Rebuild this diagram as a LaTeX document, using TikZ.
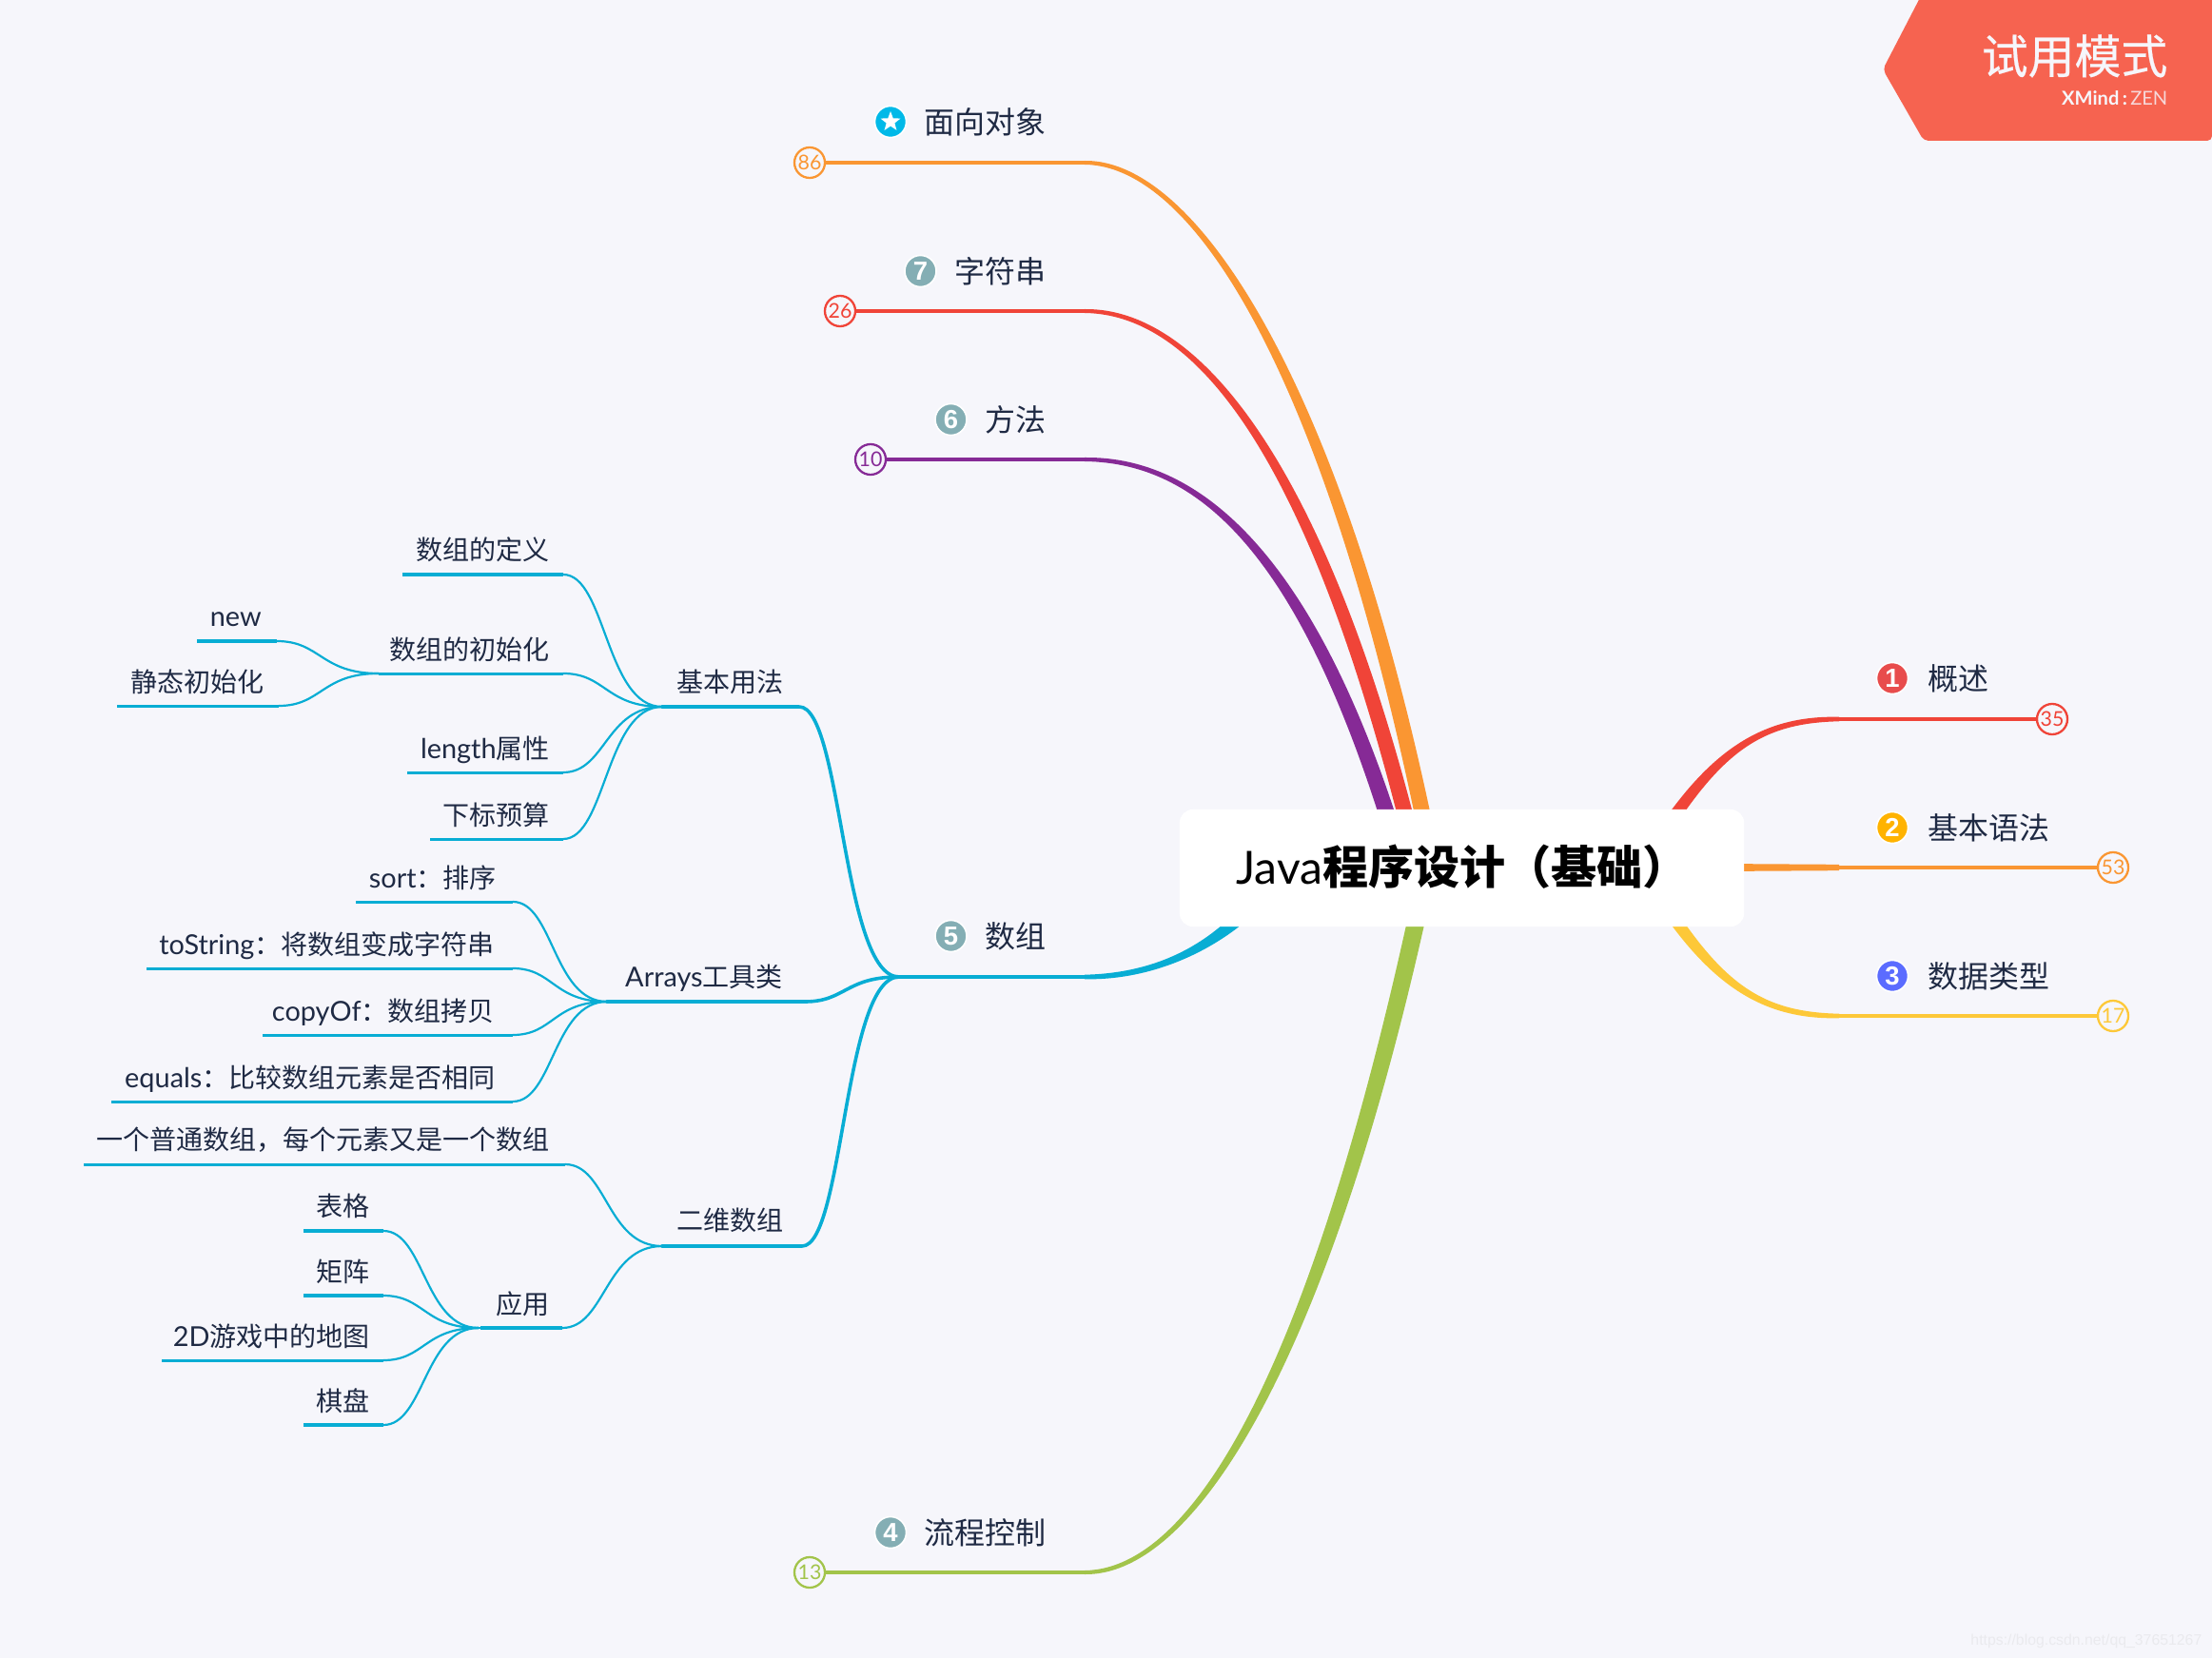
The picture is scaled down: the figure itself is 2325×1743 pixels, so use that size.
\documentclass[tikz,border=0pt]{standalone}
\usepackage{fontspec}
\usetikzlibrary{calc,shapes.geometric}
\setmainfont{Noto Sans CJK SC}
\newfontfamily\latn[Scale=1.03]{Lato}
\newfontfamily\arial{Liberation Sans}
\definecolor{bg}{HTML}{F6F6FB}
\definecolor{ink}{HTML}{1F2A44}
\definecolor{cOrange}{HTML}{FA9632}
\definecolor{cRed}{HTML}{F04438}
\definecolor{cPurple}{HTML}{862A96}
\definecolor{cBlue}{HTML}{08ADD4}
\definecolor{cGreen}{HTML}{A2C44A}
\definecolor{cYellow}{HTML}{FDC838}
\definecolor{cBanner}{HTML}{F66350}
\definecolor{iTeal}{HTML}{84AEB4}
\definecolor{iRed}{HTML}{E84C4C}
\definecolor{iAmber}{HTML}{FFB300}
\definecolor{iIndigo}{HTML}{5B6CFF}
\definecolor{iSky}{HTML}{00B9E8}
\newcommand\lt[1]{{\latn #1}}
\tikzset{
  x=0.01cm,y=-0.01cm,
  lab/.style={inner sep=0pt,anchor=east,text=ink,text height=0.88em,text depth=0.12em,xshift=0.4pt,yshift=0.8pt,font=\fontsize{7.97}{9}\selectfont},
  toplab/.style={inner sep=0pt,anchor=east,text=ink,text height=0.88em,text depth=0.12em,yshift=0.3pt,xshift=0.3pt,font=\fontsize{9.1}{11}\selectfont},
  branch/.style={draw=cBlue,line cap=round},
  icon/.style={circle,draw=white,line width=0.45pt,minimum size=0.33cm,inner sep=0pt,text=white,font=\arial\bfseries\fontsize{7.8}{9}\selectfont},
  badge/.style={circle,fill=bg,line width=0.65pt,minimum size=0.32cm,inner sep=0pt,font=\latn\fontsize{5.9}{7}\selectfont},
}
\newcommand\taper[7]{\fill[#1] ([yshift={(#6)*0.2845pt}]#2) .. controls ([yshift={1.8*(#6)*0.2845pt}]#3) and ([xshift={(#7)*0.2845pt}]#4) .. ([xshift={(#7)*0.2845pt}]#5) -- ([xshift={(-1)*(#7)*0.2845pt}]#5) .. controls ([xshift={(-1)*(#7)*0.2845pt}]#4) and ([yshift={(-1.8)*(#6)*0.2845pt}]#3) .. ([yshift={(-1)*(#6)*0.2845pt}]#2) -- cycle;}
\newcommand\link[3][2.2]{\draw[branch,line width=#1*0.2845pt] (#2) .. controls ($(#2)!0.43!(#2 -| #3)$) and ($(#3)!0.57!(#3 -| #2)$) .. (#3);}
% name, text, text right x, text y, line left x, line right x, line y, line width
\newcommand\leaf[8]{\node[lab] (#1) at (#3,#4) {#2};
  \coordinate (#1-l) at (#5,#7); \coordinate (#1-r) at (#6,#7);
  \draw[branch,line cap=butt,line width=#8*0.2845pt] (#1-l) -- (#1-r);}
\begin{document}
\begin{tikzpicture}
\useasboundingbox (0,0) rectangle (2325,1743);
\fill[bg] (0,0) rectangle (2325,1743);
% free ends of the main branches
\coordinate (tOO) at (1140,171);
\coordinate (tStr) at (1140,327);
\coordinate (tMet) at (1140,483);
\coordinate (tArr) at (1140,1027);
\coordinate (tFlow) at (1140,1653);
\coordinate (tInt) at (1933,756);
\coordinate (tSyn) at (1933,912);
\coordinate (tType) at (1933,1068);
\coordinate (eOO) at (1510,930);
\coordinate (eStr) at (1495,930);
\coordinate (eMet) at (1480,930);
\coordinate (eArr) at (1335,930);
\coordinate (eFlow) at (1503,900);
\coordinate (eInt) at (1735,896);
\coordinate (eType) at (1735,928);
\coordinate (eSynA) at (1825,912);
% tapered main branches
\taper{cPurple}{tMet}{1265,483}{1385,590}{eMet}{2}{9}
\taper{cRed}{tStr}{1265,327}{1395,500}{eStr}{2}{8.5}
\taper{cOrange}{tOO}{1265,171}{1415,430}{eOO}{2}{8.5}
\taper{cBlue}{tArr}{1220,1027}{1290,990}{eArr}{-2.3}{11}
\taper{cGreen}{tFlow}{1265,1653}{1400,1400}{eFlow}{-2}{9.5}
\taper{cRed}{tInt}{1850,756}{1800,790}{eInt}{2.3}{-8}
\taper{cYellow}{tType}{1850,1068}{1800,1034}{eType}{-2.3}{-8}
\fill[cOrange] ([yshift=0.9pt]tSyn) -- ([yshift=1.1pt]eSynA) -- ([yshift=-1.1pt]eSynA) -- ([yshift=-0.9pt]tSyn) -- cycle;
% root
\node[fill=white,rounded corners=0.14cm,minimum width=5.93cm,minimum height=1.23cm,inner sep=0pt] (root) at (1536.5,912.5) {};
\node[inner sep=0pt,text=black,text height=0.88em,text depth=0.12em,font=\fontsize{13.67}{16}\selectfont] (rootText) at (1537,916) {{\fontspec[Scale=1]{Lato}Java}\textbf{程序设计（基础）}};
% count badges and their lines
\node[badge,draw=cOrange,text=cOrange] (n86) at (851,171) {86};
\node[badge,draw=cRed,text=cRed] (n26) at (883,327) {26};
\node[badge,draw=cPurple,text=cPurple] (n10) at (915,483) {10};
\node[badge,draw=cGreen,text=cGreen] (n13) at (851,1653) {13};
\node[badge,draw=cRed,text=cRed] (n35) at (2157,756) {35};
\node[badge,draw=cOrange,text=cOrange] (n53) at (2221,912) {53};
\node[badge,draw=cYellow,text=cYellow] (n17) at (2221,1068) {17};
\draw[cOrange,line width=1.2pt] (n86) -- (tOO);
\draw[cRed,line width=1.2pt] (n26) -- (tStr);
\draw[cPurple,line width=1.2pt] (n10) -- (tMet);
\draw[cGreen,line width=1.1pt] (n13) -- (tFlow);
\draw[cRed,line width=1.2pt] (n35) -- (tInt);
\draw[cOrange,line width=1.2pt] (n53) -- (tSyn);
\draw[cYellow,line width=1.2pt] (n17) -- (tType);
% main labels
\node[toplab] (lOO) at (1099,128) {面向对象};
\node[toplab] (lStr) at (1099,285) {字符串};
\node[toplab] (lMet) at (1099,441) {方法};
\node[toplab] (lArr) at (1099,984) {数组};
\node[toplab] (lFlow) at (1099,1611) {流程控制};
\node[toplab,anchor=west,xshift=-0.3pt] (lInt) at (2026,713) {概述};
\node[toplab,anchor=west,xshift=-0.3pt] (lSyn) at (2026,870) {基本语法};
\node[toplab,anchor=west,xshift=-0.3pt] (lType) at (2026,1026) {数据类型};
\node[icon,fill=iSky] (iOO) at (936,128) {};
\node[star,star points=5,star point ratio=2.4,fill=white,minimum size=0.22cm,inner sep=0pt] (iStar) at (936,128) {};
\node[icon,fill=iTeal] (iStr) at (967.5,285) {7};
\node[icon,fill=iTeal] (iMet) at (999.5,441) {6};
\node[icon,fill=iTeal] (iArr) at (999.5,984) {5};
\node[icon,fill=iTeal] (iFlow) at (936,1611) {4};
\node[icon,fill=iRed] (iInt) at (1989,713) {1};
\node[icon,fill=iAmber] (iSyn) at (1989,870) {2};
\node[icon,fill=iIndigo] (iType) at (1989,1026) {3};
% blue trunk
\coordinate (jArr) at (945,1027);
\draw[branch,line cap=butt,line width=1.3pt] (jArr) -- (tArr);
% level 2
\leaf{basic}{基本用法}{823}{717}{700}{840}{743}{4.5}
\leaf{tools}{\lt{Arrays}工具类}{822}{1027}{645}{846}{1053}{4}
\leaf{twod}{二维数组}{823}{1283}{700}{843}{1310}{4.5}
\coordinate (jBasic) at (696,743);
\coordinate (jTools) at (638,1053);
\coordinate (jTwod) at (696,1310);
\draw[branch,line width=1pt] (jBasic) -- (basic-l);
\draw[branch,line width=1pt] (jTools) -- (tools-l);
\draw[branch,line width=1pt] (jTwod) -- (twod-l);
\link[3.6]{basic-r}{jArr}
\link[3.6]{tools-r}{jArr}
\link[3.6]{twod-r}{jArr}
% basic
\leaf{def}{数组的定义}{577}{578}{423}{592}{604}{3}
\leaf{init}{数组的初始化}{577}{683}{398}{592}{708}{3}
\leaf{len}{\lt{length}属性}{577}{787}{428}{592}{812}{3}
\leaf{idx}{下标预算}{577}{857}{452}{592}{882}{3}
\leaf{new}{\lt{new}}{274}{648}{207}{291}{674}{4}
\leaf{stat}{静态初始化}{277}{717}{123}{293}{742}{3}
\link{def-r}{jBasic}
\link{init-r}{jBasic}
\link{len-r}{jBasic}
\link{idx-r}{jBasic}
\link{new-r}{init-l}
\link{stat-r}{init-l}
% Arrays
\leaf{sort}{\lt{sort}：排序}{521}{923}{374}{539}{948}{3}
\leaf{tostr}{\lt{toString}：将数组变成字符串}{519}{993}{154}{539}{1018}{3}
\leaf{copy}{\lt{copyOf}：数组拷贝}{519}{1063}{276}{539}{1088}{3}
\leaf{equ}{\lt{equals}：比较数组元素是否相同}{520}{1133}{117}{539}{1158}{3}
\link{sort-r}{jTools}
\link{tostr-r}{jTools}
\link{copy-r}{jTools}
\link{equ-r}{jTools}
% 2D
\leaf{plain}{一个普通数组，每个元素又是一个数组}{577}{1198}{88}{594}{1224}{3}
\leaf{app}{应用}{577}{1371}{505}{591}{1396}{4}
\coordinate (jApp) at (503,1396);
\draw[branch,line width=0.8pt] (jApp) -- (app-l);
\link{plain-r}{jTwod}
\link{app-r}{jTwod}
\leaf{tab}{表格}{388}{1268}{319}{403}{1294}{4}
\leaf{mat}{矩阵}{388}{1337}{319}{403}{1362}{4}
\leaf{map}{\lt{2D}游戏中的地图}{388}{1405}{170}{403}{1430}{3}
\leaf{board}{棋盘}{388}{1473}{319}{403}{1498}{4}
\link{tab-r}{jApp}
\link{mat-r}{jApp}
\link{map-r}{jApp}
\link{board-r}{jApp}
% trial banner
\fill[cBanner,rounded corners=0.05cm] (2022,-10) -- (2340,-10) -- (2325,0) -- (2325,148) -- (2022,148) -- (1979,73) -- cycle;
\node[inner sep=0pt,anchor=east,text=bg,text height=0.88em,text depth=0.12em,font=\fontsize{13.9}{16}\addfontfeature{FakeBold=0.4}\selectfont] (trial) at (2279,64) {试用模式};
\node[inner sep=0pt,anchor=east,text=bg,font=\latn\fontsize{5.55}{7}\selectfont] (brand) at (2279,103) {\textbf{XMind\,:}\,\textcolor{bg!80!cBanner}{ZEN}};
% watermark
\node[inner sep=0pt,anchor=east,text=black!5!bg,font=\arial\fontsize{4.5}{5}\selectfont] (mark) at (2315,1725) {https://blog.csdn.net/qq\_37651267};
\end{tikzpicture}
\end{document}
